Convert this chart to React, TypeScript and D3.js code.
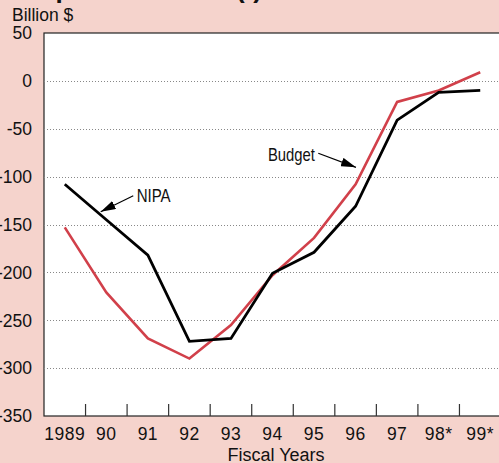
import React from "react";
import * as d3 from "d3";

const years = ["1989", "90", "91", "92", "93", "94", "95", "96", "97", "98*", "99*"];
const nipa = [-108, -145, -182, -272, -269, -201, -179, -131, -41, -12, -10];
const budget = [-153, -221, -269, -290, -255, -203, -164, -108, -22, -10, 9];
const yTicks = [50, 0, -50, -100, -150, -200, -250, -300, -350];
const gridValues = [0, -50, -100, -150, -200, -250, -300];

// annotation anchors in data units (category index, value)
const annotations = [
  { label: "NIPA", tipI: 0.865, tipV: -136.6, tailI: 1.649, tailV: -119.9, textI: 1.73, textV: -126.2, anchor: "start", len: 34 },
  { label: "Budget", tipI: 7.009, tipV: -90.3, tailI: 6.102, tailV: -75.6, textI: 6.02, textV: -83.7, anchor: "end", len: 47 },
];

const W = 499;
const H = 463;
const left = 44;
const right = 501;
const top = 33;
const bottom = 416;

export default function App() {
  const x = d3.scaleBand<string>().domain(years).range([left, right]).padding(0);
  const xi = (i: number) => left + x.step() * (i + 0.5);
  const y = d3.scaleLinear().domain([-350, 50]).range([bottom, top]);

  const line = d3
    .line<number>()
    .x((_, i) => x(years[i])! + x.bandwidth() / 2)
    .y((d) => y(d));

  const font = "'Liberation Sans', Arial, Helvetica, sans-serif";

  return (
    <svg
      width={W}
      height={H}
      style={{ position: "absolute", left: 0, top: 0, display: "block" }}
      fontFamily={font}
    >
      <rect x={0} y={0} width={W} height={H} fill="#f5d3cc" />
      <text x={262} y={-2} textAnchor="end" fontSize={26} fontWeight="bold" fill="#111">
        Surplus or Deficit (-)
      </text>
      <text x={12} y={21} fontSize={17.5} fill="#111">
        Billion $
      </text>
      <rect x={left} y={top} width={right - left} height={bottom - top} fill="#fff" stroke="#222" strokeWidth={1.2} />
      {gridValues.map((v) => (
        <line
          key={v}
          x1={left}
          x2={right}
          y1={Math.round(y(v)) + 0.5}
          y2={Math.round(y(v)) + 0.5}
          stroke="#888"
          strokeWidth={1}
          strokeDasharray="1 2"
        />
      ))}
      {yTicks.map((v) => (
        <text key={v} x={32} y={y(v)} dy="0.36em" textAnchor="end" fontSize={17.5} fill="#111">
          {v}
        </text>
      ))}
      {years.slice(1).map((yr) => (
        <line
          key={yr}
          x1={x(yr)!}
          x2={x(yr)!}
          y1={bottom}
          y2={bottom - 12}
          stroke="#333"
          strokeWidth={1.2}
        />
      ))}
      {years.map((yr) => (
        <text
          key={yr}
          x={x(yr)! + x.bandwidth() / 2}
          y={440}
          textAnchor="middle"
          fontSize={17.5}
          letterSpacing={0.5}
          fill="#111"
        >
          {yr}
        </text>
      ))}
      <text x={276} y={461} textAnchor="middle" fontSize={18} fill="#111">
        Fiscal Years
      </text>
      <path d={line(budget)!} fill="none" stroke="#d1404a" strokeWidth={2.6} strokeLinejoin="miter" />
      <path d={line(nipa)!} fill="none" stroke="#000" strokeWidth={2.8} strokeLinejoin="miter" />
      <defs>
        <marker id="arr" viewBox="0 0 15 9" refX={15} refY={4.5} markerWidth={15} markerHeight={9} markerUnits="userSpaceOnUse" orient="auto">
          <path d="M0,0 L15,4.5 L0,9 Z" fill="#000" />
        </marker>
      </defs>
      {annotations.map((a) => (
        <g key={a.label}>
          <line
            x1={xi(a.tailI)}
            y1={y(a.tailV)}
            x2={xi(a.tipI)}
            y2={y(a.tipV)}
            stroke="#000"
            strokeWidth={1.2}
            markerEnd="url(#arr)"
          />
          <text
            x={xi(a.textI)}
            y={y(a.textV)}
            textAnchor={a.anchor as any}
            fontSize={18.5}
            textLength={a.len}
            lengthAdjust="spacingAndGlyphs"
            fill="#111"
          >
            {a.label}
          </text>
        </g>
      ))}
    </svg>
  );
}
